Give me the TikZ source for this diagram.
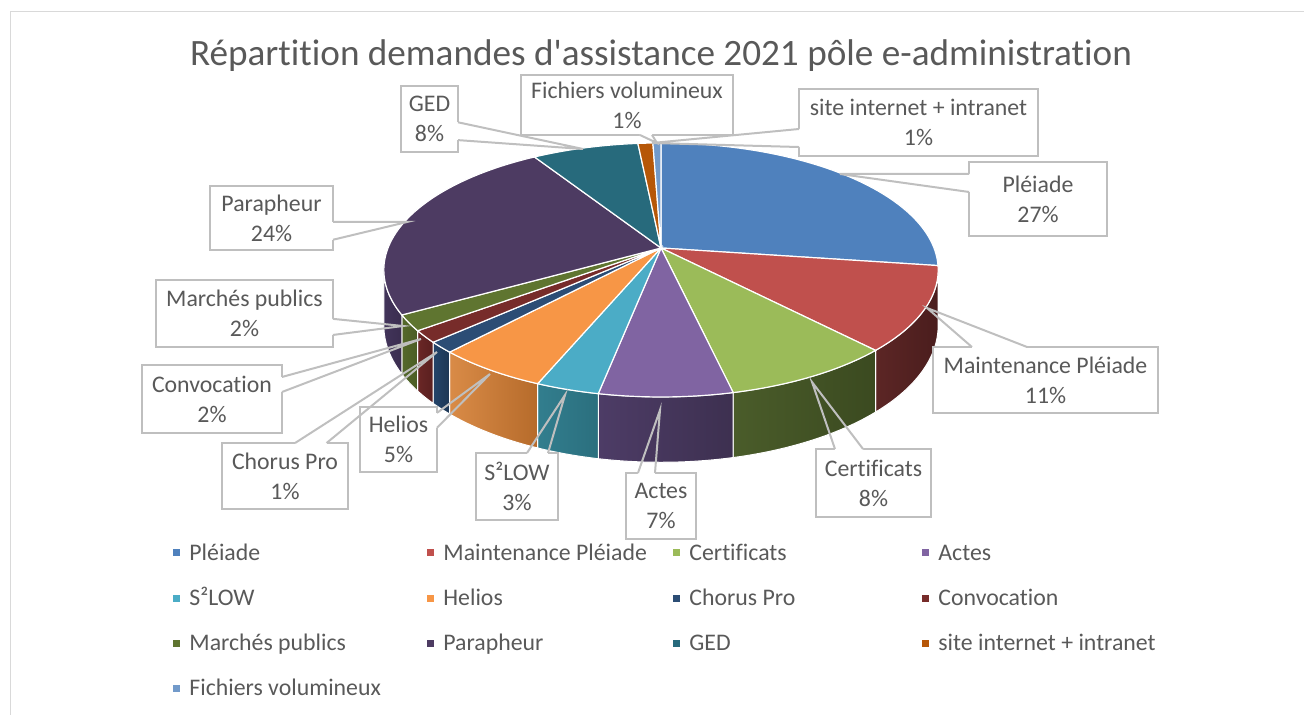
\documentclass[tikz,border=0pt]{standalone}
\usepackage{fontspec}
\newfontfamily\calfont{Carlito}[Ligatures=NoCommon]
\usetikzlibrary{calc,positioning}

% slice colours (top faces)
\definecolor{pleiade}{HTML}{4F81BD}
\definecolor{maint}{HTML}{C0504D}
\definecolor{cert}{HTML}{9BBB59}
\definecolor{actes}{HTML}{8064A2}
\definecolor{slow}{HTML}{4BACC6}
\definecolor{helios}{HTML}{F79646}
\definecolor{chorus}{HTML}{2C4D75}
\definecolor{convoc}{HTML}{772C2A}
\definecolor{marches}{HTML}{5F7530}
\definecolor{parapheur}{HTML}{4D3B62}
\definecolor{ged}{HTML}{276A7C}
\definecolor{site}{HTML}{B65708}
\definecolor{fichiers}{HTML}{729ACA}
% side walls
\definecolor{maintL}{HTML}{5C2625}\definecolor{maintR}{HTML}{4A1D1D}
\definecolor{certL}{HTML}{4A5C2A}\definecolor{certR}{HTML}{3B4A20}
\definecolor{actesL}{HTML}{4D3C66}\definecolor{actesR}{HTML}{3D3050}
\definecolor{slowL}{HTML}{327E8E}\definecolor{slowR}{HTML}{2B6F7E}
\definecolor{heliosL}{HTML}{D98B47}\definecolor{heliosR}{HTML}{B66B2B}
\definecolor{chorusL}{HTML}{24446A}\definecolor{chorusR}{HTML}{1D3754}
\definecolor{convocL}{HTML}{6A2726}\definecolor{convocR}{HTML}{5A1F1F}
\definecolor{marchesL}{HTML}{55692C}\definecolor{marchesR}{HTML}{4B5D25}
\definecolor{parapheurL}{HTML}{42345A}\definecolor{parapheurR}{HTML}{3A2D4F}
% text and lines
\definecolor{txtgray}{HTML}{595959}
\definecolor{boxgray}{HTML}{BFBFBF}
\definecolor{framegray}{HTML}{D9D9D9}

% callout pointer: node, side from/to anchors, two fractions, tip
\newcommand{\calltail}[6]{%
  \draw[white, line width=1.4pt] ($(#1.#2)!#4!(#1.#3)$) -- ($(#1.#2)!#5!(#1.#3)$);
  \draw[boxline] ($(#1.#2)!#4!(#1.#3)$) -- (#6) -- ($(#1.#2)!#5!(#1.#3)$);
}

\begin{document}
\begin{tikzpicture}[
    x=0.5pt, y=-0.5pt,
    declare function={
      piex(\t)=661+273*sin(\t)/(1+0.173*cos(\t));
      piey(\t)=248-123.2*cos(\t)/(1+0.173*cos(\t));
      piet(\t)=54/(1+0.173*cos(\t));
    },
    slicetop/.style={draw=white, line width=0.6pt},
    wall/.style={draw=white, line width=0.5pt},
    callbox/.style={draw=boxgray, line width=1pt, fill=white, text=txtgray,
      align=center, inner sep=0pt, outer sep=0pt,
      font=\calfont\fontsize{11.9}{15}\selectfont},
    boxline/.style={draw=boxgray, line width=1pt},
    legsq/.style={minimum size=3.5pt, inner sep=0pt},
    legtxt/.style={text=txtgray, inner sep=0pt, anchor=base west,
      font=\calfont\fontsize{11.9}{14}\selectfont},
  ]
  \useasboundingbox (0,0) rectangle (1304,715);
  \draw[framegray, line width=0.5pt] (10,715) -- (10,12) -- (1304,12);

  \node[text=txtgray, anchor=base, font=\calfont\fontsize{18.6}{22}\selectfont] (title)
    at (661,66) {Répartition demandes d'assistance 2021 pôle e-administration};

  % side walls
  \foreach \a/\b/\cl/\cr in {100/136.6/maintL/maintR, 136.6/167.3/certL/certR,
      167.3/191/actesL/actesR, 191/202.3/slowL/slowR, 202.3/222.5/heliosL/heliosR,
      222.5/227.5/chorusL/chorusR, 227.5/233/convocL/convocR,
      233/240.2/marchesL/marchesR, 240.2/260/parapheurL/parapheurR}
    \shadedraw[wall, left color=\cl, right color=\cr]
      plot[domain=\a:\b, samples=40] ({piex(\x)},{piey(\x)})
      -- plot[domain=\b:\a, samples=40] ({piex(\x)},{piey(\x)+piet(\x)}) -- cycle;

  % top faces
  \foreach \a/\b/\col in {0/98/pleiade, 98/136.6/maint, 136.6/167.3/cert,
      167.3/191/actes, 191/202.3/slow, 202.3/222.5/helios, 222.5/227.5/chorus,
      227.5/233/convoc, 233/240.2/marches, 240.2/327.9/parapheur,
      327.9/354.3/ged, 354.3/358/site, 358/360/fichiers}
    \filldraw[slicetop, fill=\col] (661,248)
      -- plot[domain=\a:\b, samples=60] ({piex(\x)},{piey(\x)}) -- cycle;

  % callout tips
  \coordinate (tged) at (583,149);
  \coordinate (tfichiers) at (657,143);
  \coordinate (tsite) at (652,143);
  \coordinate (tpleiade) at (840,174);
  \coordinate (tmaint) at (927,308);
  \coordinate (tcert) at (812,382);
  \coordinate (tactes) at (660,410);
  \coordinate (tslow) at (565,395);
  \coordinate (thelios) at (490,374);
  \coordinate (tchorus) at (437,352);
  \coordinate (tconvoc) at (421,339);
  \coordinate (tmarches) at (403,326);
  \coordinate (tparapheur) at (407,222);

  % callouts
  \node[callbox, minimum width=28.5pt, minimum height=33pt] (ged) at (429.5,119) {GED\\8\%};
  \node[callbox, minimum width=106pt, minimum height=30pt] (fichiers) at (627,105) {Fichiers volumineux\\1\%};
  \node[callbox, minimum width=119.5pt, minimum height=33.5pt] (site) at (918.5,122.5) {site internet + intranet\\1\%};
  \node[callbox, minimum width=69pt, minimum height=37pt] (pleiadebox) at (1038,199) {Pléiade\\27\%};
  \node[callbox, minimum width=112.5pt, minimum height=33pt] (maintbox) at (1045.5,380) {Maintenance Pléiade\\11\%};
  \node[callbox, minimum width=57.5pt, minimum height=34pt] (certbox) at (873.5,483) {Certificats\\8\%};
  \node[callbox, minimum width=35pt, minimum height=33pt] (actesbox) at (661,506) {Actes\\7\%};
  \node[callbox, minimum width=41pt, minimum height=33.5pt] (slowbox) at (517,486.5) {S²LOW\\3\%};
  \node[callbox, minimum width=63pt, minimum height=33pt] (chorusbox) at (285,476) {Chorus Pro\\1\%};
  \node[callbox, minimum width=38.5pt, minimum height=32.5pt] (heliosbox) at (398.5,439.5) {Helios\\5\%};
  \node[callbox, minimum width=70pt, minimum height=34pt] (convocbox) at (212,399) {Convocation\\2\%};
  \node[callbox, minimum width=88.5pt, minimum height=33.5pt] (marchesbox) at (244.5,313.5) {Marchés publics\\2\%};
  \node[callbox, minimum width=61.5pt, minimum height=32pt] (parapheurbox) at (271.5,218) {Parapheur\\24\%};

  \calltail{ged}{north east}{south east}{0.55}{0.82}{tged}
  \calltail{fichiers}{south west}{south east}{0.561}{0.618}{tfichiers}
  \calltail{site}{north west}{south west}{0.597}{0.866}{tsite}
  \calltail{pleiadebox}{north west}{south west}{0.162}{0.405}{tpleiade}
  \calltail{maintbox}{north west}{north east}{0.173}{0.418}{tmaint}
  \calltail{certbox}{north west}{north east}{0.165}{0.409}{tcert}
  \calltail{actesbox}{north west}{north east}{0.171}{0.414}{tactes}
  \calltail{slowbox}{north west}{north east}{0.622}{0.878}{tslow}
  \calltail{chorusbox}{north west}{north east}{0.58}{0.83}{tchorus}
  \calltail{heliosbox}{north east}{south east}{0.09}{0.32}{thelios}
  \calltail{convocbox}{north east}{south east}{0.176}{0.397}{tconvoc}
  \calltail{marchesbox}{north east}{south east}{0.58}{0.82}{tmarches}
  \calltail{parapheurbox}{north east}{south east}{0.5625}{0.84}{tparapheur}

  % legend
  \foreach \n/\col/\lx/\ly/\txt in {1/pleiade/176/552.5/Pléiade,
      2/maint/430/552.5/Maintenance Pléiade, 3/cert/676/552.5/Certificats,
      4/actes/925/552.5/Actes, 5/slow/176/598/S²LOW, 6/helios/430/598/Helios,
      7/chorus/676/598/Chorus Pro, 8/convoc/925/598/Convocation,
      9/marches/176/643/Marchés publics, 10/parapheur/430/643/Parapheur,
      11/ged/676/643/GED, 12/site/925/643/site internet + intranet,
      13/fichiers/176/688/Fichiers volumineux}
  {
    \node[legsq, fill=\col] (sq\n) at (\lx,\ly) {};
    \node[legtxt] (lt\n) at (\lx+13,\ly+7.5) {\txt};
  }
\end{tikzpicture}
\end{document}
